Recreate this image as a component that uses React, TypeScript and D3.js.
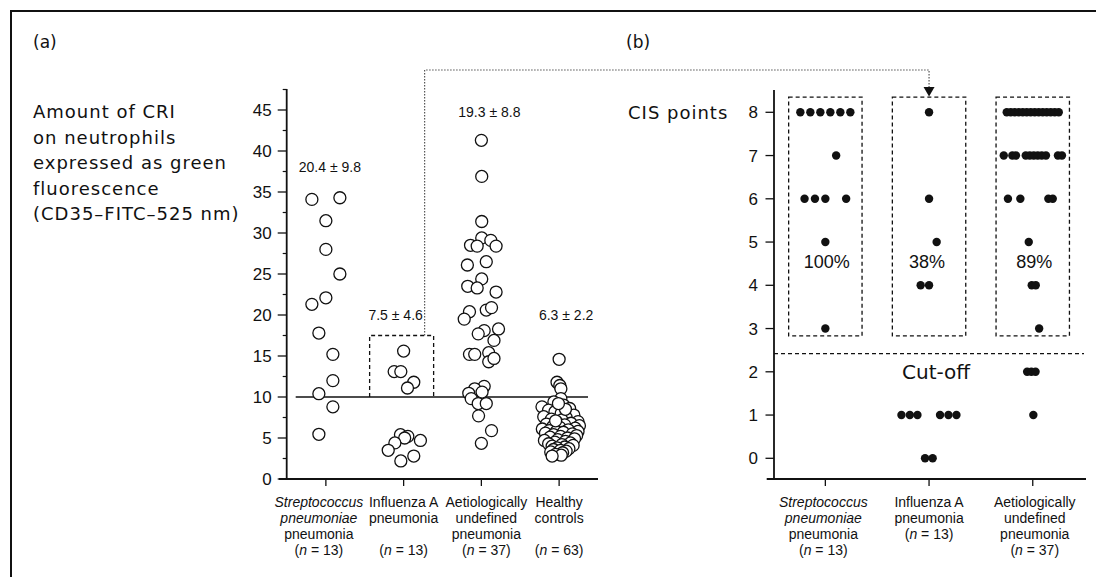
import React from "react";
import * as d3 from "d3";

// ---------------- DATA ----------------
const groupsA = ["strep", "flu", "aet", "healthy"];
const yTicksA = [0, 5, 10, 15, 20, 25, 30, 35, 40, 45];
const yMinorA = [2.5, 7.5, 12.5, 17.5, 22.5, 27.5, 32.5, 37.5, 42.5, 47.5];

const strepCRI = [34.1, 34.3, 31.5, 28.0, 25.0, 22.1, 21.3, 17.8, 15.2, 12.0, 10.4, 8.8, 5.45];
const strepJit = [-4, 4, 0, 0, 4, 0, -4, -2, 2, 2, -2, 2, -2];

const fluCRI = [15.6, 13.1, 13.1, 11.8, 11.1, 5.4, 5.2, 5.0, 4.4, 4.7, 3.5, 2.8, 2.2];
const fluJit = [0, -2.7, -0.8, 2.9, 1.1, -0.9, 1.2, 0.3, -2.5, 4.8, -4.4, 2.9, -0.8];

const aetCRI = [41.3, 36.9, 31.4, 29.4, 28.5, 28.4, 29.1, 28.4, 26.1, 26.5, 24.4, 23.5, 23.3, 22.8, 20.4, 20.6, 20.9, 19.5, 18.1, 18.3, 17.7, 16.9, 15.2, 15.2, 15.4, 14.3, 14.7, 11.3, 11.0, 10.45, 10.6, 9.8, 9.2, 9.2, 7.7, 5.9, 4.35];
const aetJit = [0, 0.1, 0.1, 0.1, -3.1, -1.2, 2.7, 4.2, -4, 1.4, 0.1, -3.9, -1.2, 4.2, -3.4, 1.4, 2.9, -4.9, 0.8, 4.9, -0.9, 3.6, -3.4, -1.9, 2.1, 2.1, 3.6, 0.8, -1.9, -3.6, 0.2, -2.9, -0.9, 1.4, -0.8, 2.9, 0];

const healthyCRI = [14.6, 11.8, 11.4, 11.0, 9.8, 9.4, 9.0, 8.8, 8.6, 8.4, 8.2, 8.0, 7.8, 7.6, 7.5, 7.3, 7.2, 7.0, 6.9, 6.8, 6.7, 6.6, 6.5, 6.4, 6.3, 6.2, 6.1, 6.0, 5.9, 5.8, 5.8, 5.7, 5.6, 5.5, 5.4, 5.3, 5.2, 5.1, 5.0, 4.9, 4.8, 4.7, 4.6, 4.5, 4.4, 4.3, 4.2, 4.1, 4.0, 3.9, 3.8, 3.7, 3.6, 3.5, 3.4, 3.3, 3.2, 3.0, 2.9, 2.8, 8.5, 9.2, 7.1];
const healthyJit = [0, -0.6, 0.2, 0.5, 0.5, -1.5, 1.3, -4.9, 3.0, -3.0, -1.2, 0.6, 4.2, -4.4, 2.0, -2.2, 0.8, 5.4, -0.6, 3.4, -3.6, 1.6, 5.8, -1.8, 0.2, 4.6, -4.8, 2.6, -2.8, 5.4, -0.8, 1.2, -3.9, 3.8, -1.6, 5.0, 0.4, -2.6, 2.4, 4.4, -0.4, -4.2, 1.8, -1.2, 3.2, -3.0, 0.8, 4.0, -2.0, 1.6, -0.6, 2.8, -1.6, 0.4, 2.0, -2.4, 1.0, -1.0, 0.6, -2.0, 1.8, -0.2, -1.0];

const meanLabelsA = ["20.4 \u00b1 9.8", "7.5 \u00b1 4.6", "19.3 \u00b1 8.8", "6.3 \u00b1 2.2"];
const meanLabelValA = [37.4, 19.4, 44.1, 19.4];
const cutoffCRI = 10;
const fluBoxTop = 17.5;

const yLabelA = ["Amount of CRI", "on neutrophils", "expressed as green", "fluorescence", "(CD35\u2013FITC\u2013525 nm)"];

type Seg = [string, boolean];
const catLabelsA: Seg[][][] = [
  [[["Streptococcus", true]], [["pneumoniae", true]], [["pneumonia", false]], [["(", false], ["n", true], [" = 13)", false]]],
  [[["Influenza A", false]], [["pneumonia", false]], [], [["(", false], ["n", true], [" = 13)", false]]],
  [[["Aetiologically", false]], [["undefined", false]], [["pneumonia", false]], [["(", false], ["n", true], [" = 37)", false]]],
  [[["Healthy", false]], [["controls", false]], [], [["(", false], ["n", true], [" = 63)", false]]],
];

const groupsB = ["strep", "flu", "aet"];
const yTicksB = [0, 1, 2, 3, 4, 5, 6, 7, 8];
const strepCIS = [8, 8, 8, 8, 8, 8, 7, 6, 6, 6, 6, 5, 3];
const strepCISJit = [-6.25, -3.75, -1.25, 1.25, 3.75, 6.25, 2.7, -5.2, -2.6, 0, 5.2, 0, 0];
const fluCIS = [8, 6, 5, 4, 4, 1, 1, 1, 1, 1, 1, 0, 0];
const fluCISJit = [0, 0, 1.9, -2.1, 0, -6.9, -4.8, -2.9, 2.75, 4.85, 6.85, -1, 0.9];
const aetCIS = [8, 8, 8, 8, 8, 8, 8, 8, 8, 8, 8, 8, 8, 8, 7, 7, 7, 7, 7, 7, 7, 7, 7, 7, 7, 6, 6, 6, 6, 5, 4, 4, 3, 2, 2, 2, 1];
const aetCISJit = [-6.5, -5.5, -4.5, -3.5, -2.5, -1.5, -0.5, 0.5, 1.5, 2.5, 3.5, 4.5, 5.5, 6.5, -7.25, -5.1, -4.2, -1.75, -0.75, 0.25, 1.25, 2.25, 3.3, 6.3, 7.3, -6.2, -3.1, 3.9, 5, -1, -0.25, 0.75, 1.6, -1.4, -0.35, 0.7, 0.15];
const percentLabels = ["100%", "38%", "89%"];
const boxTopB = 8.35;
const boxBottomB = 2.83;
const cutoffCIS = 2.42;

const catLabelsB: Seg[][][] = [
  [[["Streptococcus", true]], [["pneumoniae", true]], [["pneumonia", false]], [["(", false], ["n", true], [" = 13)", false]]],
  [[["Influenza A", false]], [["pneumonia", false]], [["(", false], ["n", true], [" = 13)", false]]],
  [[["Aetiologically", false]], [["undefined", false]], [["pneumonia", false]], [["(", false], ["n", true], [" = 37)", false]]],
];

// ---------------- LAYOUT ----------------
const W = 1096, H = 577;
const WIDE = "'DejaVu Sans', sans-serif";
const SANS = "'Liberation Sans', Arial, sans-serif";
const INK = "#111";

const xA = d3.scaleBand().domain(groupsA).range([287, 598]);
const yA = d3.scaleLinear().domain([0, 45]).range([479, 110]);
const xB = d3.scaleBand().domain(groupsB).range([773.5, 1084.6]);
const yB = d3.scaleLinear().domain([0, 8]).range([458.3, 112.3]);
const cA = (g: string) => (xA(g) as number) + xA.bandwidth() / 2;
const cB = (g: string) => (xB(g) as number) + xB.bandwidth() / 2;
const JIT_A = 3.5;
const JIT_B = 4;

const seriesA = [
  { g: "strep", v: strepCRI, j: strepJit },
  { g: "flu", v: fluCRI, j: fluJit },
  { g: "aet", v: aetCRI, j: aetJit },
  { g: "healthy", v: healthyCRI, j: healthyJit },
];
const seriesB = [
  { g: "strep", v: strepCIS, j: strepCISJit },
  { g: "flu", v: fluCIS, j: fluCISJit },
  { g: "aet", v: aetCIS, j: aetCISJit },
];

function Label({ x, y0, lines, dx }: { x: number; y0: number; lines: Seg[][]; dx: number }) {
  return (
    <text fontFamily={SANS} fontSize={14} fill={INK} textAnchor="middle">
      {lines.map((line, i) =>
        line.length === 0 ? null : (
          <tspan key={i} x={x + dx} y={y0 + i * 16}>
            {line.map((s, k) => (
              <tspan key={k} fontStyle={s[1] ? "italic" : "normal"}>{s[0]}</tspan>
            ))}
          </tspan>
        )
      )}
    </text>
  );
}

export default function App() {
  const axisAx = 286.7;
  const axisBx = 774;
  const meanDx = [4, -8, 8, 7];
  const labelDxA = [-7, 0, 5, 0];
  const fluC = cA("flu");
  const boxL = fluC - 34, boxR = fluC + 30;
  const dotX = fluC + 21;
  const arrowX = cB("flu");
  const boxHalfB = 36.7;

  return (
    <svg width={W} height={H} style={{ position: "absolute", left: 0, top: 0, background: "#fff" }}>
      <rect x={0} y={0} width={W} height={H} fill="#fff" />
      <path d={`M11,${H + 5} V11 H${W + 5}`} fill="none" stroke={INK} strokeWidth={2} />

      <text x={33} y={48} fontFamily={WIDE} fontSize={17} fill={INK}>(a)</text>
      <text x={626} y={48} fontFamily={WIDE} fontSize={17} fill={INK}>(b)</text>

      <text fontFamily={WIDE} fontSize={18} letterSpacing={1} fill={INK}>
        {yLabelA.map((t, i) => (
          <tspan key={i} x={33} y={118 + i * 25.5}>{t}</tspan>
        ))}
      </text>

      {/* panel (a) axes */}
      <line x1={axisAx} x2={axisAx} y1={89} y2={479} stroke={INK} strokeWidth={1.8} />
      <line x1={279} x2={598} y1={479} y2={479} stroke={INK} strokeWidth={1.8} />
      {yTicksA.map((t) => (
        <g key={t}>
          <line x1={axisAx - 9} x2={axisAx} y1={yA(t)} y2={yA(t)} stroke={INK} strokeWidth={1.3} />
          <text x={axisAx - 15} y={yA(t)} dy="0.35em" textAnchor="end" fontFamily={SANS} fontSize={17} fill={INK}>{t}</text>
        </g>
      ))}
      {yMinorA.map((t) => (
        <line key={t} x1={axisAx - 4} x2={axisAx} y1={yA(t)} y2={yA(t)} stroke={INK} strokeWidth={1.2} />
      ))}
      {groupsA.map((g) => (
        <line key={g} x1={cA(g)} x2={cA(g)} y1={479} y2={486} stroke={INK} strokeWidth={1.3} />
      ))}
      {groupsA.map((g, i) => (
        <Label key={g} x={cA(g)} y0={506.7} lines={catLabelsA[i]} dx={labelDxA[i]} />
      ))}

      <line x1={295.7} x2={588} y1={yA(cutoffCRI)} y2={yA(cutoffCRI)} stroke={INK} strokeWidth={1.6} />
      <path
        d={`M${boxL},${yA(cutoffCRI)} V${yA(fluBoxTop)} H${boxR} V${yA(cutoffCRI)}`}
        fill="none" stroke={INK} strokeWidth={1.3} strokeDasharray="4 3"
      />
      <path
        d={`M${dotX},${yA(fluBoxTop)} V70 H${arrowX} V87`}
        fill="none" stroke="#555" strokeWidth={1.2} strokeDasharray="1.5 1.5"
      />
      <polygon points={`${arrowX - 5.5},87 ${arrowX + 5.5},87 ${arrowX},96.5`} fill={INK} />

      {groupsA.map((g, i) => (
        <text key={g} x={cA(g) + meanDx[i]} y={yA(meanLabelValA[i])} textAnchor="middle" fontFamily={SANS} fontSize={14} fill={INK}>
          {meanLabelsA[i]}
        </text>
      ))}

      {seriesA.map((s) =>
        s.v.map((v, i) => (
          <circle key={s.g + i} cx={cA(s.g) + s.j[i] * JIT_A} cy={yA(v)} r={6} fill="#fff" stroke={INK} strokeWidth={1.3} />
        ))
      )}

      {/* panel (b) */}
      <text x={628} y={119} fontFamily={WIDE} fontSize={18} letterSpacing={1} fill={INK}>CIS points</text>
      <line x1={axisBx} x2={axisBx} y1={90} y2={479} stroke={INK} strokeWidth={1.8} />
      <line x1={766.7} x2={1086} y1={479} y2={479} stroke={INK} strokeWidth={1.8} />
      {yTicksB.map((t) => (
        <g key={t}>
          <line x1={axisBx - 8.5} x2={axisBx} y1={yB(t)} y2={yB(t)} stroke={INK} strokeWidth={1.3} />
          <text x={axisBx - 16} y={yB(t)} dy="0.35em" textAnchor="end" fontFamily={SANS} fontSize={17} fill={INK}>{t}</text>
        </g>
      ))}
      {groupsB.map((g) => (
        <line key={g} x1={cB(g)} x2={cB(g)} y1={479} y2={486} stroke={INK} strokeWidth={1.3} />
      ))}
      {groupsB.map((g, i) => (
        <Label key={g} x={cB(g)} y0={507.3} lines={catLabelsB[i]} dx={[-2, 0, 2][i]} />
      ))}

      {groupsB.map((g) => (
        <rect key={g} x={cB(g) - boxHalfB} y={yB(boxTopB)} width={boxHalfB * 2} height={yB(boxBottomB) - yB(boxTopB)}
          fill="none" stroke={INK} strokeWidth={1.3} strokeDasharray="4 3" />
      ))}
      <line x1={axisBx} x2={1084} y1={yB(cutoffCIS)} y2={yB(cutoffCIS)} stroke={INK} strokeWidth={1.3} strokeDasharray="4 3" />
      <text x={cB("flu") + 7} y={yB(1.83)} textAnchor="middle" fontFamily={WIDE} fontSize={20} fill={INK}>Cut-off</text>

      {groupsB.map((g, i) => (
        <text key={g} x={cB(g) + [1.5, -2, 1.5][i]} y={yB(4.4)} textAnchor="middle" fontFamily={SANS} fontSize={18} fill={INK}>
          {percentLabels[i]}
        </text>
      ))}

      {seriesB.map((s) =>
        s.v.map((v, i) => (
          <circle key={s.g + i} cx={cB(s.g) + s.j[i] * JIT_B} cy={yB(v)} r={4.2} fill={INK} />
        ))
      )}
    </svg>
  );
}
